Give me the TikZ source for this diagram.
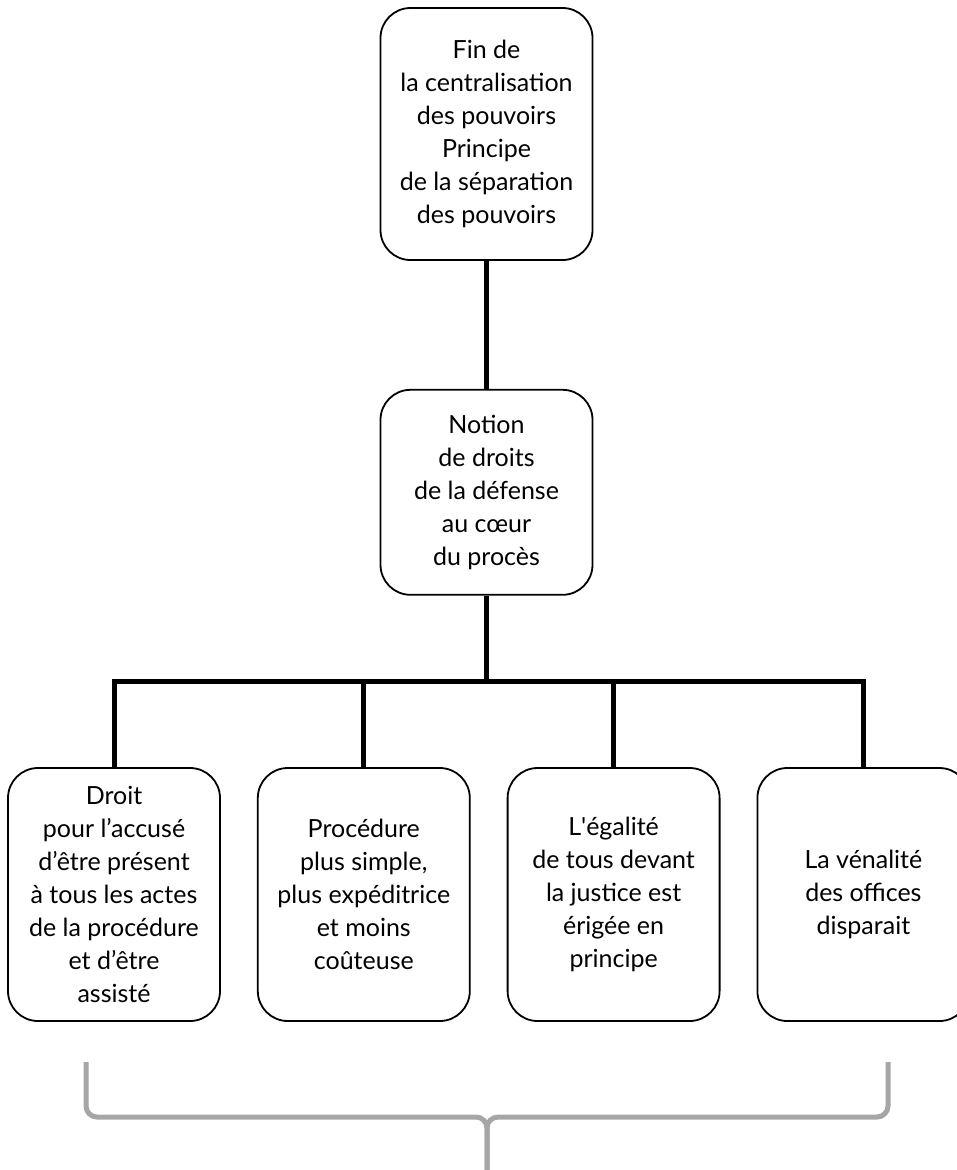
\documentclass[tikz,border=0pt]{standalone}
\usepackage{fontspec}
\setmainfont{Lato}
\usetikzlibrary{positioning}

\begin{document}
\begin{tikzpicture}[x=1pt,y=-1pt,node distance=36pt,
  box/.style={draw,line width=1.8pt,rounded corners=30pt,align=center,minimum width=212pt,font=\fontsize{25}{33}\selectfont},
  link/.style={line width=5pt},
  brace/.style={draw=gray!70,line width=5pt,rounded corners=11pt}]
\useasboundingbox (0,0) rectangle (956,1170);
\node[box,minimum height=252pt] (top) at (486.5,134) {Fin de\\la centralisation\\des pouvoirs\\Principe\\de la séparation\\des pouvoirs};
\node[box,minimum height=205pt,below=128pt of top] (mid) {Notion\\de droits\\de la défense\\au cœur\\du procès};
\node[box,minimum height=253pt] (b1) at (114,894.5) {Droit\\pour l’accusé\\d’être présent\\à tous les actes\\de la procédure\\et d’être\\assisté};
\node[box,minimum height=253pt,right=of b1] (b2) {Procédure\\plus simple,\\plus expéditrice\\et moins\\coûteuse};
\node[box,minimum height=253pt,right=of b2] (b3) {L\textquotesingle égalité\\de tous devant\\la justice est\\érigée en\\principe};
\node[box,minimum height=253pt,right=of b3] (b4) {La vénalité\\des offices\\disparait};
\coordinate (bus) at (486.5,681);
\draw[link] (top) -- (mid);
\draw[link] (mid) -- (bus);
\draw[link] (b1.north) |- (b4.north |- bus) -- (b4.north);
\foreach \n in {b2,b3} \draw[link] (\n.north) -- (\n.north |- bus);
% brace under the four boxes
\draw[brace] (86,1062) |- (487,1117) -- (487,1170);
\draw[brace] (888,1062) |- (487,1117) -- (487,1170);
\end{tikzpicture}
\end{document}
